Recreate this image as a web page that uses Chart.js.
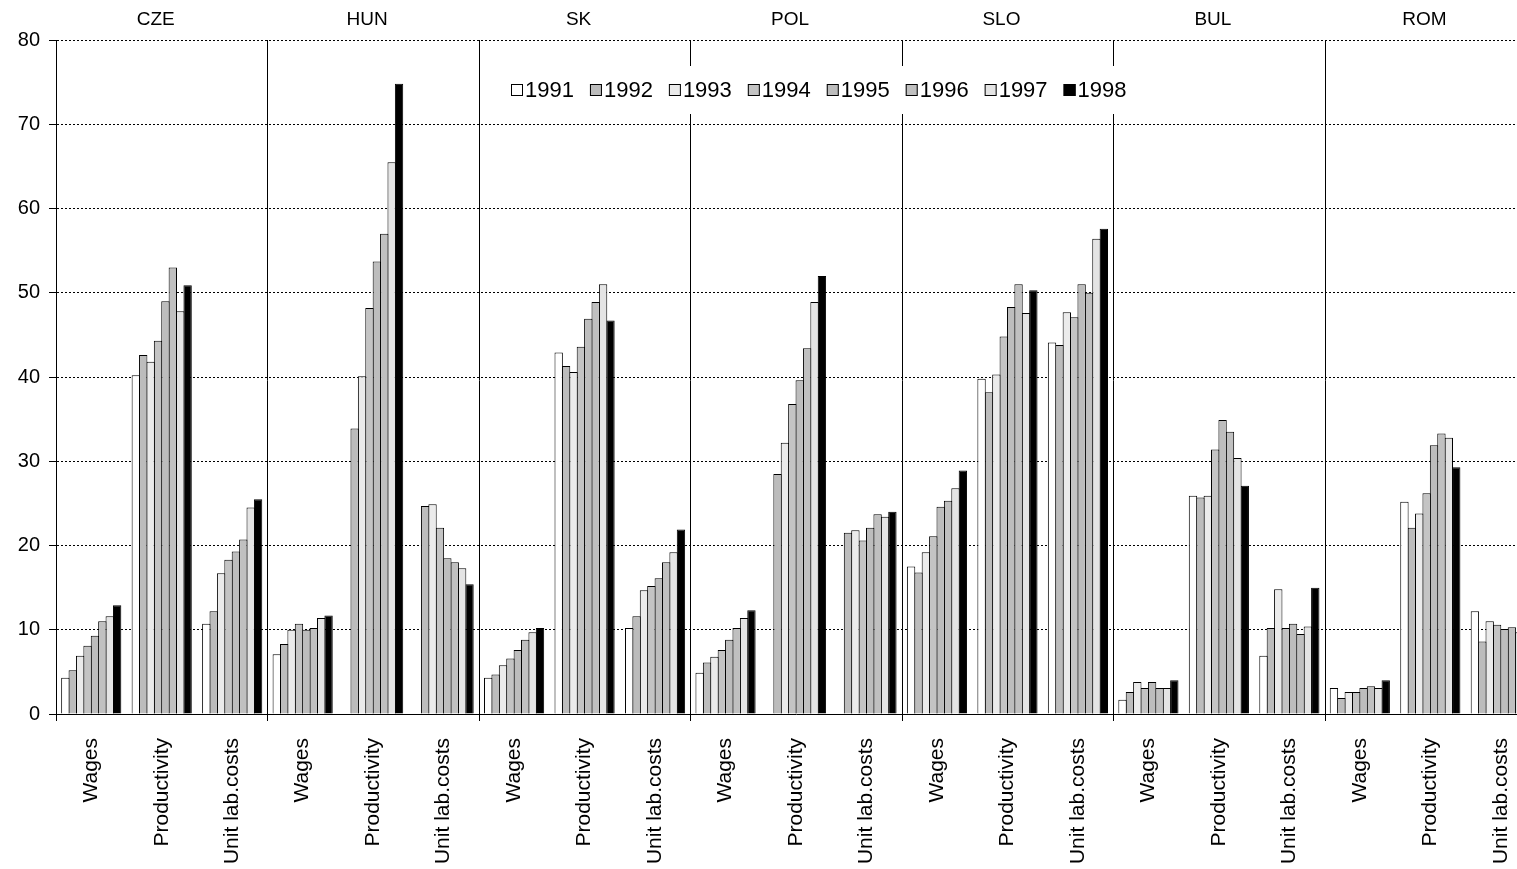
<!DOCTYPE html>
<html lang="en">
<head>
  <meta charset="UTF-8" />
  <title>Wages, productivity and unit labour costs</title>
  <script src="https://cdn.jsdelivr.net/npm/chart.js"></script>
  <style>
    html, body { margin: 0; padding: 0; background: #fff; overflow: hidden; }
    canvas { display: block; }
  </style>
</head>
<body>
  <canvas id="chart" width="1542" height="869"></canvas>

  <script>
    // --- data ---
    const years = ["1991", "1992", "1993", "1994", "1995", "1996", "1997", "1998"];
    const countries = ["CZE", "HUN", "SK", "POL", "SLO", "BUL", "ROM"];
    const measures = ["Wages", "Productivity", "Unit lab.costs"];

    // each country: [wages, productivity, unit labour costs], one value per year
    const cze = [
      [4.3, 5.2, 6.9, 8.1, 9.3, 11.0, 11.6, 12.9],
      [40.2, 42.6, 41.8, 44.3, 49.0, 53.0, 47.8, 50.9],
      [10.7, 12.2, 16.7, 18.3, 19.3, 20.7, 24.5, 25.5]
    ];
    const hun = [
      [7.1, 8.3, 10.0, 10.7, 10.0, 10.2, 11.4, 11.7],
      [null, 33.9, 40.1, 48.2, 53.7, 57.0, 65.5, 74.8],
      [null, 24.7, 24.9, 22.1, 18.5, 18.0, 17.3, 15.4]
    ];
    const sk = [
      [4.3, 4.7, 5.8, 6.6, 7.6, 8.8, 9.7, 10.2],
      [42.9, 41.3, 40.6, 43.6, 46.9, 48.9, 51.0, 46.7],
      [10.2, 11.6, 14.7, 15.2, 16.1, 18.0, 19.2, 21.9]
    ];
    const pol = [
      [4.9, 6.1, 6.8, 7.6, 8.8, 10.2, 11.4, 12.3],
      [null, 28.5, 32.2, 36.8, 39.6, 43.4, 48.9, 52.0],
      [null, 21.5, 21.8, 20.6, 22.1, 23.7, 23.4, 24.0]
    ];
    const slo = [
      [17.5, 16.8, 19.2, 21.1, 24.6, 25.3, 26.8, 28.9],
      [39.8, 38.2, 40.3, 44.8, 48.3, 51.0, 47.6, 50.3],
      [44.1, 43.8, 47.7, 47.1, 51.0, 50.0, 56.4, 57.6]
    ];
    const bul = [
      [1.7, 2.6, 3.8, 3.1, 3.8, 3.1, 3.1, 4.0],
      [25.9, 25.7, 25.9, 31.4, 34.9, 33.5, 30.4, 27.1],
      [6.9, 10.2, 14.8, 10.2, 10.7, 9.5, 10.4, 15.0]
    ];
    const rom = [
      [3.1, 1.9, 2.6, 2.6, 3.1, 3.3, 3.1, 4.0],
      [25.2, 22.1, 23.8, 26.2, 31.9, 33.3, 32.8, 29.3],
      [12.2, 8.6, 11.0, 10.6, 10.1, 10.3, 9.7, 9.5]
    ];
    const yTicks = [0, 10, 20, 30, 40, 50, 60, 70, 80];

    const colors = ["#ffffff", "#bcbcbc", "#ebebeb", "#c4c4c4", "#bdbdbd", "#c0c0c0", "#e4e4e4", "#000000"];
    const FONT = "'Liberation Sans', Arial, sans-serif";

    const byCountry = [cze, hun, sk, pol, slo, bul, rom];
    const labels = countries.flatMap(() => measures);

    const datasets = years.map((yr, j) => ({
      label: yr,
      data: byCountry.flatMap(c => c.map(m => m[j])),
      backgroundColor: colors[j],
      borderColor: "#000",
      borderWidth: 1,
      barPercentage: 1.13,
      categoryPercentage: 0.84
    }));

    // country separators, tick marks below the axis and country names on top
    const countryPlugin = {
      id: "countries",
      afterDatasetsDraw(chart) {
        const { ctx, chartArea, scales } = chart;
        const x = scales.x;
        const edges = [];
        for (let k = 0; k <= countries.length; k++) {
          if (k === 0) edges.push(chartArea.left);
          else if (k === countries.length) edges.push(chartArea.right);
          else edges.push((x.getPixelForValue(3 * k - 1) + x.getPixelForValue(3 * k)) / 2);
        }
        ctx.save();
        ctx.strokeStyle = "#000";
        ctx.lineWidth = 1;
        edges.forEach(ex => {
          const px = Math.round(ex) + 0.5;
          ctx.beginPath();
          ctx.moveTo(px, chartArea.top);
          ctx.lineTo(px, chartArea.bottom + 7);
          ctx.stroke();
        });
        ctx.fillStyle = "#000";
        ctx.font = "19px " + FONT;
        ctx.textAlign = "center";
        ctx.textBaseline = "middle";
        countries.forEach((c, k) => {
          ctx.fillText(c, (edges[k] + edges[k + 1]) / 2 - 6, 20);
        });
        ctx.restore();
      },
      afterDraw(chart) {
        // legend drawn inside the plot, on a white panel
        const { ctx } = chart;
        ctx.save();
        ctx.font = "22px " + FONT;
        ctx.textBaseline = "middle";
        const left = 511, cy = 90, box = 12, gap = 2, space = 16;
        let w = 0;
        years.forEach(y => { w += box + gap + ctx.measureText(y).width + space; });
        w -= space;
        ctx.fillStyle = "#fff";
        ctx.fillRect(left - 6, cy - 24, w + 12, 48);
        let px = left;
        chart.data.datasets.forEach(ds => {
          ctx.fillStyle = ds.backgroundColor;
          ctx.fillRect(px, cy - box / 2, box, box);
          ctx.strokeStyle = "#000";
          ctx.lineWidth = 1;
          ctx.strokeRect(px + 0.5, cy - box / 2 + 0.5, box - 1, box - 1);
          ctx.fillStyle = "#000";
          ctx.fillText(ds.label, px + box + gap, cy + 1);
          px += box + gap + ctx.measureText(ds.label).width + space;
        });
        ctx.restore();
      }
    };

    new Chart(document.getElementById("chart"), {
      type: "bar",
      data: { labels, datasets },
      options: {
        responsive: false,
        animation: false,
        layout: { padding: { top: 40, left: 0, right: 0, bottom: 0 } },
        plugins: {
          legend: { display: false },
          tooltip: { enabled: false }
        },
        scales: {
          x: {
            grid: { display: false },
            border: { display: true, color: "#000", width: 1 },
            ticks: {
              autoSkip: false,
              minRotation: 90,
              maxRotation: 90,
              padding: 16,
              color: "#000",
              font: { family: FONT, size: 21 }
            },
            afterFit(scale) { scale.height = 155; }
          },
          y: {
            min: 0,
            max: 80,
            afterBuildTicks(scale) { scale.ticks = yTicks.map(v => ({ value: v })); },
            grid: {
              color: "#000",
              lineWidth: 1,
              drawTicks: true,
              tickLength: 7,
              tickColor: "#000"
            },
            border: { display: true, color: "#000", width: 1, dash: [2, 2] },
            ticks: {
              padding: 9,
              color: "#000",
              font: { family: FONT, size: 20 }
            },
            afterFit(scale) { scale.width = 56; }
          }
        }
      },
      plugins: [countryPlugin]
    });
  </script>
</body>
</html>
